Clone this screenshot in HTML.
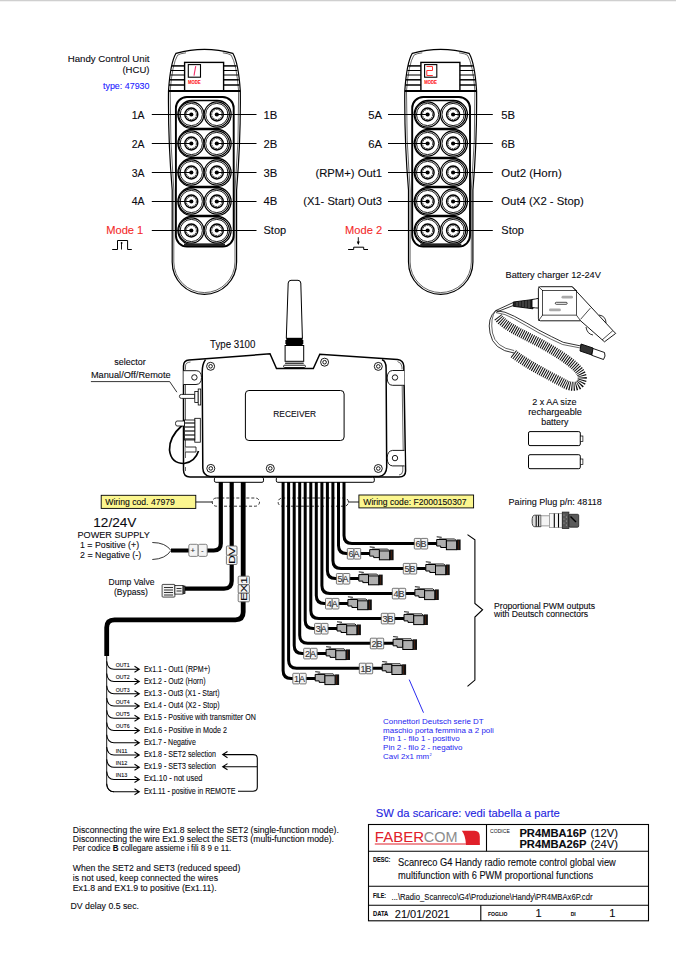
<!DOCTYPE html>
<html><head><meta charset="utf-8">
<style>
html,body{margin:0;padding:0;background:#fff;}
body{width:676px;height:955px;overflow:hidden;position:relative;}
svg{position:absolute;left:0;top:0;}
text{font-family:"Liberation Sans",sans-serif;fill:#0a0a10;stroke:#0a0a10;stroke-width:0.1px;}
</style></head><body>
<svg width="676" height="955" viewBox="0 0 676 955">
<defs>
<g id="btn">
  <circle r="12.6" fill="#fff" stroke="#000" stroke-width="1.2"/>
  <circle r="11.1" fill="none" stroke="#000" stroke-width="0.9"/>
  <circle r="6.5" fill="none" stroke="#000" stroke-width="1.4"/>
  <circle r="5.1" fill="none" stroke="#000" stroke-width="0.9" stroke-dasharray="1.8 0.7"/>
  <circle r="2.1" fill="#000"/>
</g>
<g id="row">
  <rect x="-13.4" y="-14" width="53.2" height="28" rx="14" fill="#fff" stroke="#000" stroke-width="1.3"/>
  <use href="#btn" x="0" y="0"/>
  <use href="#btn" x="25.5" y="0"/>
</g>
<g id="hcu">
  <!-- body outline -->
  <path d="M176,53.3 Q204.4,45.3 232.8,53.3 Q238.5,63 240.3,91 Q240.8,140 236.6,190 L236.6,262 A32.2,32.3 0 0 1 172.2,262 L172.2,190 Q168,140 168.5,91 Q170.3,63 176,53.3 Z" fill="#fff" stroke="#000" stroke-width="1.2"/>
  <path d="M186,52.8 Q180,53.5 177.6,55.2 Q172.2,64 170.2,91 M222.8,52.8 Q228.8,53.5 231.2,55.2 Q236.6,64 238.6,91 M238.6,91 Q239.2,140 235,190 L235,262 A30.6,30.6 0 0 1 173.8,262 L173.8,190 Q169.8,140 170.2,91" fill="none" stroke="#000" stroke-width="0.6"/>
  <!-- head -->
  <rect x="184.6" y="62.4" width="39" height="28.5" fill="#fff" stroke="#000" stroke-width="1.4"/>
  <g stroke="#000">
    <line x1="171.8" y1="65.9" x2="184.6" y2="65.9" stroke-width="1.5"/>
    <line x1="171" y1="70.5" x2="184.6" y2="70.5" stroke-width="1"/>
    <line x1="170.3" y1="75" x2="184.6" y2="75" stroke-width="1"/>
    <line x1="169.6" y1="79.8" x2="184.6" y2="79.8" stroke-width="1.5"/>
    <line x1="169" y1="85" x2="184.6" y2="85" stroke-width="1.5"/>
    <line x1="223.6" y1="65.9" x2="236.6" y2="65.9" stroke-width="1.5"/>
    <line x1="223.6" y1="70.5" x2="237.4" y2="70.5" stroke-width="1"/>
    <line x1="223.6" y1="75" x2="238.1" y2="75" stroke-width="1"/>
    <line x1="223.6" y1="79.8" x2="238.8" y2="79.8" stroke-width="1.5"/>
    <line x1="223.6" y1="85" x2="239.4" y2="85" stroke-width="1.5"/>
    <line x1="168.5" y1="91" x2="240.3" y2="91" stroke-width="1.8"/>
  </g>
  <rect x="188.3" y="64.6" width="12.2" height="12.6" fill="#fff" stroke="#000" stroke-width="1.1"/>
  <text x="187.9" y="83.8" font-size="5" font-weight="bold" style="fill:#f22;stroke:#f22" textLength="12.7" lengthAdjust="spacingAndGlyphs">MODE</text>
  <!-- keypad -->
  <rect x="175.9" y="97" width="57.8" height="149.6" rx="11" fill="#fff" stroke="#000" stroke-width="1.9"/>
  <use href="#row" x="191.3" y="114.5"/>
  <use href="#row" x="191.3" y="143.5"/>
  <use href="#row" x="191.3" y="172.5"/>
  <use href="#row" x="191.3" y="201.5"/>
  <use href="#row" x="191.3" y="230.5"/>
  <path d="M184,244.8 H225" stroke="#222" stroke-width="2.6"/>
</g>
</defs>

<!-- top border line -->
<rect x="0" y="0" width="676" height="1" fill="#cfcfcf"/><rect x="0" y="1" width="676" height="1" fill="#f2f2f2"/>

<!-- HCU left -->
<use href="#hcu"/>
<line x1="195.7" y1="66.1" x2="194" y2="75.7" stroke="#f2306a" stroke-width="1.1"/>
<!-- HCU right -->
<use href="#hcu" x="236.3"/>
<path d="M426.5,66.5 H432.5 V70.5 H426.8 V75.5 H432.8" fill="none" stroke="#f33" stroke-width="1"/>

<!-- left HCU labels -->
<g font-size="11">
<text x="67.7" y="62" font-size="9.8" textLength="81.8" lengthAdjust="spacingAndGlyphs">Handy Control Unit</text>
<text x="122.4" y="73.1" font-size="9.8" textLength="27.1" lengthAdjust="spacingAndGlyphs">(HCU)</text>
<text x="103" y="89.4" font-size="9" style="fill:#1c1cff;stroke:#1c1cff" textLength="46.5" lengthAdjust="spacingAndGlyphs">type: 47930</text>
</g>
<g stroke="#000" stroke-width="1">
  <line x1="151.8" y1="114.5" x2="191.3" y2="114.5"/>
  <line x1="151.8" y1="143.5" x2="191.3" y2="143.5"/>
  <line x1="151.8" y1="172.5" x2="191.3" y2="172.5"/>
  <line x1="151.8" y1="201.5" x2="191.3" y2="201.5"/>
  <line x1="151.8" y1="230.5" x2="191.3" y2="230.5"/>
  <line x1="216.8" y1="114.5" x2="256.5" y2="114.5"/>
  <line x1="216.8" y1="143.5" x2="256.5" y2="143.5"/>
  <line x1="216.8" y1="172.5" x2="256.5" y2="172.5"/>
  <line x1="216.8" y1="201.5" x2="256.5" y2="201.5"/>
  <line x1="216.8" y1="230.5" x2="256.5" y2="230.5"/>
  <line x1="388" y1="114.5" x2="427.6" y2="114.5"/>
  <line x1="388" y1="143.5" x2="427.6" y2="143.5"/>
  <line x1="388" y1="172.5" x2="427.6" y2="172.5"/>
  <line x1="388" y1="201.5" x2="427.6" y2="201.5"/>
  <line x1="388" y1="230.5" x2="427.6" y2="230.5"/>
  <line x1="453.1" y1="114.5" x2="492.8" y2="114.5"/>
  <line x1="453.1" y1="143.5" x2="492.8" y2="143.5"/>
  <line x1="453.1" y1="172.5" x2="492.8" y2="172.5"/>
  <line x1="453.1" y1="201.5" x2="492.8" y2="201.5"/>
  <line x1="453.1" y1="230.5" x2="492.8" y2="230.5"/>
</g>
<g font-size="11.2">
<text x="131.8" y="118.7" textLength="12.8" lengthAdjust="spacingAndGlyphs">1A</text>
<text x="131.8" y="147.8" textLength="12.8" lengthAdjust="spacingAndGlyphs">2A</text>
<text x="131.8" y="176.9" textLength="12.8" lengthAdjust="spacingAndGlyphs">3A</text>
<text x="131.8" y="205" textLength="12.8" lengthAdjust="spacingAndGlyphs">4A</text>
<text x="106.2" y="234" style="fill:#f42a2a;stroke:#f42a2a" textLength="37.1" lengthAdjust="spacingAndGlyphs">Mode 1</text>
<text x="263.5" y="118.7" textLength="13.8" lengthAdjust="spacingAndGlyphs">1B</text>
<text x="263.5" y="147.8" textLength="13.8" lengthAdjust="spacingAndGlyphs">2B</text>
<text x="263.5" y="176.9" textLength="13.8" lengthAdjust="spacingAndGlyphs">3B</text>
<text x="263.5" y="205" textLength="13.8" lengthAdjust="spacingAndGlyphs">4B</text>
<text x="263.5" y="234" textLength="22.7" lengthAdjust="spacingAndGlyphs">Stop</text>

<text x="368.3" y="118.7" textLength="13.8" lengthAdjust="spacingAndGlyphs">5A</text>
<text x="368.3" y="147.8" textLength="13.8" lengthAdjust="spacingAndGlyphs">6A</text>
<text x="315.4" y="176.9" textLength="66.7" lengthAdjust="spacingAndGlyphs">(RPM+) Out1</text>
<text x="303.2" y="205" textLength="78.9" lengthAdjust="spacingAndGlyphs">(X1- Start) Out3</text>
<text x="345" y="234" style="fill:#f42a2a;stroke:#f42a2a" textLength="37.1" lengthAdjust="spacingAndGlyphs">Mode 2</text>
<text x="501.3" y="118.7" textLength="13.8" lengthAdjust="spacingAndGlyphs">5B</text>
<text x="501.3" y="147.8" textLength="13.8" lengthAdjust="spacingAndGlyphs">6B</text>
<text x="501.3" y="176.9" textLength="60.4" lengthAdjust="spacingAndGlyphs">Out2 (Horn)</text>
<text x="501.3" y="205" textLength="82.6" lengthAdjust="spacingAndGlyphs">Out4 (X2 - Stop)</text>
<text x="501.3" y="234" textLength="22.7" lengthAdjust="spacingAndGlyphs">Stop</text>
</g>
<!-- pulse symbols -->
<path d="M112.2,249.5 H117.5 V240.5 H127.6 V249.5 H131.8" fill="none" stroke="#000" stroke-width="1"/>
<path d="M121.5,249.5 V243" fill="none" stroke="#000" stroke-width="0.9"/><circle cx="121.6" cy="243" r="0.9" fill="#000"/>
<path d="M348.1,249.5 H353.7 V247.2 H363.7 V249.5 H368" fill="none" stroke="#000" stroke-width="1"/>
<path d="M358.3,237.2 V244" fill="none" stroke="#000" stroke-width="0.9"/><path d="M356.8,241.6 L358.3,245 L359.8,241.6 Z" fill="#000"/>

<!-- ===== Battery charger ===== -->
<text x="505.5" y="277.9" font-size="9.2" textLength="95.4" lengthAdjust="spacingAndGlyphs">Battery charger 12-24V</text>
<g fill="none" stroke="#000" stroke-width="0.9">
  <!-- cables -->
  <path d="M495.7,310.6 Q487,318 490,333 Q493,350 514,353" stroke-width="0.8"/>
  <path d="M495.7,310.6 Q490,318 492.5,333 Q495.5,347.5 514,350.5" stroke-width="0.6"/>
  <path d="M495.7,310.6 Q505,311 514.4,316.3 Q527,323 538.8,330.1 Q552,337 563.2,342.3 L581,346" stroke-width="0.8"/>
  <path d="M496,312.6 Q505,313.5 513.5,318.5 Q526,325.5 537.8,332.3 Q551,339.5 562.5,344.5 L580.5,348" stroke-width="0.6"/>
  <path d="M513.3,302.5 L495.7,310.6 M513.3,305.5 L496.5,312" stroke-width="0.8"/>
</g>
<!-- coils -->
<path d="M498,317 C506,328 530,337 547,347 C566,358 585,371 582,380 C580,388 571,387 566,384.5 C550,376 526,364 512.5,353" fill="none" stroke="#111" stroke-width="9" stroke-dasharray="1.05 1.1"/>
<g fill="#fff" stroke="#000" stroke-width="0.9">
  <!-- strain relief -->
  <path d="M513.3,302 L533,299.5 L533,308.8 L513.3,306.3 Z" fill="#222"/><path d="M517,302 V306 M520,301.5 V306.5 M523,301 V307 M526,300.6 V307.5 M529,300.2 V308" stroke="#888" stroke-width="0.6"/>
  <path d="M532,299.5 Q536,299 538.4,298.3 V308.1 Q536,308 532,307.5 Z"/>
  <!-- dc plug -->
  <path d="M581,344 L593,348 L591.8,355 L580,351 Z" fill="#333"/>
  <path d="M593,348.5 L604.5,352.5 Q606,356 603.5,359.5 L591.8,355.3 Z"/>
  <!-- charger body -->
  <path d="M540.4,286.7 H572.2 L612.9,330.6 L615.7,333.4 L604.5,341.8 L580.6,320.8 H540.4 Q538.4,320.8 538.4,318.8 V288.7 Q538.4,286.7 540.4,286.7 Z"/>
  <rect x="542.6" y="290.5" width="33.8" height="24.6" fill="none" stroke-width="0.7"/>
  <path d="M572.2,286.7 L576.4,290.5 M576.4,315.1 L580.6,320.8 M538.4,286.7 L542.6,290.5 M538.4,320.8 L542.6,315.1 M590.4,308.1 L580.6,319.3 M612.9,330.6 L602,340" fill="none" stroke-width="0.7"/>
  <path d="M599,315 Q606,316 606,323 M586,327 Q587,334 593,335" fill="none" stroke-width="0.8"/>
  <rect x="561.5" y="295.8" width="11.5" height="2.8" rx="1.4" fill="#aaa" stroke="none"/>
  <rect x="555.3" y="302.3" width="11.9" height="2" rx="1" fill="#fff" stroke-width="0.7"/>
  <rect x="549" y="308.5" width="11.9" height="2.8" rx="1.4" fill="#aaa" stroke="none"/>
</g>

<!-- batteries -->
<text x="532.2" y="404.8" font-size="8.2" textLength="44.3" lengthAdjust="spacingAndGlyphs">2 x AA size</text>
<text x="528.3" y="414.9" font-size="8.2" textLength="53.6" lengthAdjust="spacingAndGlyphs">rechargeable</text>
<text x="541.3" y="424.8" font-size="8.2" textLength="27" lengthAdjust="spacingAndGlyphs">battery</text>
<g fill="#fff" stroke="#000" stroke-width="1">
  <rect x="528.5" y="431.6" width="51.8" height="14" rx="1.5"/>
  <rect x="580.3" y="436" width="2.6" height="5.5" stroke-width="0.7"/>
  <rect x="528.5" y="454.7" width="51.8" height="14" rx="1.5"/>
  <rect x="580.3" y="459" width="2.6" height="5.5" stroke-width="0.7"/>
</g>

<!-- ===== Receiver ===== -->
<text x="210.1" y="348.3" font-size="10" textLength="45.3" lengthAdjust="spacingAndGlyphs">Type 3100</text>
<text x="114.3" y="364.8" font-size="8.5" textLength="31.4" lengthAdjust="spacingAndGlyphs">selector</text>
<text x="90.9" y="378.1" font-size="8.5" textLength="79.8" lengthAdjust="spacingAndGlyphs">Manual/Off/Remote</text>
<path d="M90.9,381.6 H169.7 L176.9,392.2" fill="none" stroke="#000" stroke-width="0.8"/>
<g fill="#fff" stroke="#000">
  <!-- outer contour -->
  <path d="M189,360.1 L270,353.8 L276.5,368.5 H313.3 L319.8,354.3 L397.5,359.4 Q403.3,360 403.8,366 L405.6,471 Q405.6,477 399,477 H190 Q183.5,477 183.5,470 V366 Q183.5,360.5 189,360.1 Z" stroke-width="1.5"/>
  <path d="M185.5,369.8 V366 Q185.5,362.3 190.5,362" fill="none" stroke-width="0.6"/>
  <path d="M402,369.4 V367 Q401.7,362.5 397.5,361.5" fill="none" stroke-width="0.6"/>
  <path d="M402.2,386 L403.2,450.4 M402.8,466 V471 Q402.5,474.8 399,475" fill="none" stroke-width="0.6"/>
  <path d="M185.5,384.5 V458 M185.5,467 V471" fill="none" stroke-width="0.6"/>
  <!-- main face -->
  <path d="M205.5,359.6 Q202.2,364 202.2,372 L202.8,468 Q203,475.5 210,476.5 H379 Q386.5,475.5 386.7,467 L386.1,368 Q386,361 382,359.8" fill="none" stroke-width="1.5"/>
  <!-- label -->
  <rect x="245.4" y="390.5" width="98.7" height="50" rx="3.5" stroke-width="1"/>
  <!-- screws -->
  <g stroke-width="0.9">
    <circle cx="210.6" cy="366.3" r="4"/><circle cx="210.6" cy="366.3" r="1.8" fill="none"/>
    <circle cx="210.8" cy="468.4" r="4"/><circle cx="210.8" cy="468.4" r="1.8" fill="none"/>
    <circle cx="270.3" cy="468.4" r="4"/><circle cx="270.3" cy="468.4" r="1.8" fill="none"/>
    <circle cx="324.6" cy="362.2" r="4"/><circle cx="324.6" cy="362.2" r="1.8" fill="none"/>
    <circle cx="378.3" cy="366.4" r="4"/><circle cx="378.3" cy="366.4" r="1.8" fill="none"/>
    <circle cx="378.3" cy="468.5" r="4"/><circle cx="378.3" cy="468.5" r="1.8" fill="none"/>
  </g>
  <!-- flange tabs -->
  <path d="M404.2,370.5 H392.5 Q387.2,371 387.2,378 Q387.2,385 392.5,385.3 H404.4" stroke-width="0.9"/>
  <circle cx="395" cy="377.5" r="2.7" stroke-width="0.9"/>
  <path d="M404.4,450.4 H392.5 Q387.2,451 387.2,458 Q387.2,465.4 392.5,465.9 H404.6" stroke-width="0.9"/>
  <circle cx="395" cy="458.1" r="2.7" stroke-width="0.9"/>
  <path d="M183.5,370.7 H196.6 Q201.5,371.2 201.5,377.5 Q201.5,384.3 196,384.5 H183.5" stroke-width="0.9"/>
  <circle cx="194.4" cy="377.4" r="2.7" stroke-width="0.9"/>
  <!-- selector -->
  <path d="M181.5,394.4 H194.8 V398.4 H181.5 Q179.4,398.4 179.4,396.4 Q179.4,394.4 181.5,394.4 Z" stroke-width="0.8"/>
  <rect x="194.8" y="391.5" width="3.4" height="10.9" stroke-width="0.8"/>
  <rect x="198.2" y="389" width="2.5" height="16" stroke-width="0.8"/>
  <!-- connector -->
  <rect x="194.8" y="418.3" width="5.5" height="23.9" stroke-width="0.8"/>
  <rect x="184.5" y="420" width="10.3" height="20" stroke-width="0.8"/>
  <g stroke-width="1.1"><line x1="185" y1="423" x2="194.8" y2="423"/><line x1="185" y1="427" x2="194.8" y2="427"/><line x1="185" y1="431" x2="194.8" y2="431"/><line x1="185" y1="435" x2="194.8" y2="435"/><line x1="185" y1="439" x2="194.8" y2="439"/></g>
  <path d="M182,425.5 Q169,437 169.5,450 Q171,463.5 184,463.5 Q195,462 198.5,451" fill="none" stroke-width="1.7"/><path d="M177,421 H184.5 V426 H177 Q175.5,426 175.5,423.5 Q175.5,421 177,421 Z" stroke-width="0.8"/><path d="M185.5,447 H196 V452 H185.5" stroke-width="0.8"/>
  <!-- bottom connector plates -->
  <rect x="214.4" y="477.3" width="49.1" height="5" rx="1.5" stroke-width="1"/>
  <rect x="276.3" y="477.3" width="98" height="5" rx="1.5" stroke-width="1"/>
</g>
<!-- ===== Antenna ===== -->
<g fill="#fff" stroke="#000" stroke-width="1">
  <path d="M286.3,338.3 L288.2,283 Q288.5,280.3 291,280.3 H298 Q300.5,280.3 300.8,283 L302.4,338.3 Z"/>
  <rect x="285.1" y="345.5" width="18.6" height="15.8"/>
  <line x1="285.1" y1="363.2" x2="303.7" y2="363.2" stroke-width="1.1"/>
  <rect x="283.6" y="365.2" width="21.8" height="2.3" rx="1" stroke-width="0.9"/>
  <path d="M286.3,338 H302.6 V340 H303.3 V344 H302.6 V345.6 H286.1 V344 H285.4 V340 H286.3 Z" fill="#000" stroke="none"/>
</g>
<text x="273.3" y="416.9" font-size="9" textLength="42.8" lengthAdjust="spacingAndGlyphs">RECEIVER</text>
<!-- WIRING -->
<g>
<rect x="101.2" y="495.3" width="94.6" height="13.1" fill="#fbf68f" stroke="#000" stroke-width="0.9"/>
<text x="105.3" y="505.4" font-size="8.5" textLength="69.6" lengthAdjust="spacingAndGlyphs">Wiring cod. 47979</text>
<line x1="195.8" y1="502" x2="212.5" y2="502" stroke="#000" stroke-width="0.9"/>
<rect x="358.9" y="495" width="114.7" height="12.9" fill="#fbf68f" stroke="#000" stroke-width="0.9"/>
<text x="363.3" y="504.5" font-size="8.5" textLength="103.2" lengthAdjust="spacingAndGlyphs">Wiring code: F2000150307</text>
<line x1="348" y1="502" x2="358.9" y2="502" stroke="#000" stroke-width="0.9"/>
</g>
<path d="M220.8,482 V543.5 Q220.8,550.5 213.8,550.5 H171" fill="none" stroke="#000" stroke-linecap="butt" stroke-linejoin="round" stroke-width="4.2"/>
<path d="M231.7,482 V581 Q231.7,588.6 224,588.6 H184.2" fill="none" stroke="#000" stroke-linecap="butt" stroke-linejoin="round" stroke-width="4.2"/>
<path d="M243.2,482 V612 Q243.2,619.8 235.4,619.8 H114.5 Q106.7,619.8 106.7,627.6 V656" fill="none" stroke="#000" stroke-linecap="butt" stroke-linejoin="round" stroke-width="4.8"/>
<path d="M152.3,542.5 Q165.5,542.5 171,550.5 M152.3,559.5 Q165.5,559 171,550.5" fill="none" stroke="#000" stroke-width="0.8"/>
<g stroke="#666" stroke-width="0.8" fill="#f4f4f4"><rect x="188.8" y="544.3" width="9.4" height="12.1" rx="1.5"/><rect x="198.2" y="544.3" width="9" height="12.1" rx="1.5"/></g>
<text x="190.6" y="553.3" font-size="8" style="fill:#333;stroke:#333">+</text><text x="201" y="553" font-size="8" style="fill:#333;stroke:#333">-</text>
<g fill="#f4f4f4" stroke="#555" stroke-width="0.8"><rect x="226.4" y="546" width="10.6" height="9.3" rx="1"/><rect x="226.4" y="555.3" width="10.6" height="9.2" rx="1"/></g>
<text transform="translate(235.2,564) rotate(-90)" font-size="9" textLength="17" lengthAdjust="spacingAndGlyphs">DV</text>
<g fill="#f4f4f4" stroke="#555" stroke-width="0.8"><rect x="238.2" y="576.2" width="11.2" height="8.5" rx="1"/><rect x="238.2" y="584.7" width="11.2" height="8.5" rx="1"/><rect x="238.2" y="593.2" width="11.2" height="8.6" rx="1"/></g>
<text transform="translate(247.3,601) rotate(-90)" font-size="9" textLength="24" lengthAdjust="spacingAndGlyphs">EX1</text>
<g stroke="#000" stroke-width="0.7" fill="#f2f2f2"><rect x="162.1" y="584.4" width="12.8" height="12.7" rx="0.8"/><rect x="174.9" y="585.5" width="8.2" height="8.6"/><rect x="183" y="586" width="2" height="7.6" fill="#555"/></g>
<g stroke="#000" stroke-width="0.8"><line x1="164" y1="587.5" x2="173" y2="587.5"/><line x1="164" y1="590" x2="173" y2="590"/><line x1="164" y1="592.5" x2="173" y2="592.5"/><line x1="164" y1="595" x2="173" y2="595"/><line x1="176.5" y1="588.5" x2="181.5" y2="588.5"/><line x1="176.5" y1="591" x2="181.5" y2="591"/></g>
<rect x="212.2" y="498" width="47.3" height="8.2" rx="4.1" fill="none" stroke="#000" stroke-width="0.8" stroke-dasharray="3 2"/>
<rect x="278.1" y="498" width="70.3" height="8.2" rx="4.1" fill="none" stroke="#000" stroke-width="0.8" stroke-dasharray="3 2"/>
<path d="M283.1,482 V670.4 Q283.1,678.4 291.1,678.4 H316.2" fill="none" stroke="#000" stroke-linecap="butt" stroke-linejoin="round" stroke-width="3"/>
<path d="M288.6,482 V660.3 Q288.6,668.3 296.6,668.3 H383.2" fill="none" stroke="#000" stroke-linecap="butt" stroke-linejoin="round" stroke-width="3"/>
<path d="M294.2,482 V645.4 Q294.2,653.4 302.2,653.4 H327.1" fill="none" stroke="#000" stroke-linecap="butt" stroke-linejoin="round" stroke-width="3"/>
<path d="M299.7,482 V635.3 Q299.7,643.3 307.7,643.3 H394.1" fill="none" stroke="#000" stroke-linecap="butt" stroke-linejoin="round" stroke-width="3"/>
<path d="M305.2,482 V620.5 Q305.2,628.5 313.2,628.5 H338.0" fill="none" stroke="#000" stroke-linecap="butt" stroke-linejoin="round" stroke-width="3"/>
<path d="M310.8,482 V610.4 Q310.8,618.4 318.8,618.4 H405.0" fill="none" stroke="#000" stroke-linecap="butt" stroke-linejoin="round" stroke-width="3"/>
<path d="M316.3,482 V595.5 Q316.3,603.5 324.3,603.5 H348.9" fill="none" stroke="#000" stroke-linecap="butt" stroke-linejoin="round" stroke-width="3"/>
<path d="M321.9,482 V585.4 Q321.9,593.4 329.9,593.4 H415.9" fill="none" stroke="#000" stroke-linecap="butt" stroke-linejoin="round" stroke-width="3"/>
<path d="M327.4,482 V570.6 Q327.4,578.6 335.4,578.6 H359.8" fill="none" stroke="#000" stroke-linecap="butt" stroke-linejoin="round" stroke-width="3"/>
<path d="M332.9,482 V560.5 Q332.9,568.5 340.9,568.5 H426.8" fill="none" stroke="#000" stroke-linecap="butt" stroke-linejoin="round" stroke-width="3"/>
<path d="M338.5,482 V545.6 Q338.5,553.6 346.5,553.6 H370.7" fill="none" stroke="#000" stroke-linecap="butt" stroke-linejoin="round" stroke-width="3"/>
<path d="M344.0,482 V535.5 Q344.0,543.5 352.0,543.5 H437.7" fill="none" stroke="#000" stroke-linecap="butt" stroke-linejoin="round" stroke-width="3"/>
<g fill="#f4f4f4" stroke="#555" stroke-width="0.8"><rect x="292.8" y="673.3" width="6.7" height="10.6" rx="0.8"/><rect x="299.5" y="673.3" width="6.7" height="10.6" rx="0.8"/></g>
<text x="294.0" y="682.0" font-size="9" style="fill:#333;stroke:#333" textLength="11" lengthAdjust="spacingAndGlyphs">1A</text>
<path d="M315.2,671.7 L320.2,672.2 M317.7,673.9 H333.2 L334.7,675.4" fill="none" stroke="#000" stroke-width="0.9"/>
<path d="M315.2,674.4 H324.9 V682.4 H319.2 V680.9 H315.2 Z" fill="#b0b0b0" stroke="#000" stroke-width="1"/>
<rect x="324.9" y="675.7" width="10.2" height="8.9" fill="#b0b0b0" stroke="#000" stroke-width="1"/>
<rect x="335.1" y="674.4" width="4" height="10.6" fill="#111"/>
<rect x="336.5" y="675.4" width="0.5" height="9" fill="#6a2a10"/>
<g fill="#f4f4f4" stroke="#555" stroke-width="0.8"><rect x="359.3" y="663.2" width="6.7" height="10.6" rx="0.8"/><rect x="366.0" y="663.2" width="6.7" height="10.6" rx="0.8"/></g>
<text x="360.5" y="671.9" font-size="9" style="fill:#333;stroke:#333" textLength="11" lengthAdjust="spacingAndGlyphs">1B</text>
<path d="M382.2,661.6 L387.2,662.1 M384.7,663.8 H400.2 L401.7,665.3" fill="none" stroke="#000" stroke-width="0.9"/>
<path d="M382.2,664.3 H391.9 V672.3 H386.2 V670.8 H382.2 Z" fill="#b0b0b0" stroke="#000" stroke-width="1"/>
<rect x="391.9" y="665.6" width="10.2" height="8.9" fill="#b0b0b0" stroke="#000" stroke-width="1"/>
<rect x="402.1" y="664.3" width="4" height="10.6" fill="#111"/>
<rect x="403.5" y="665.3" width="0.5" height="9" fill="#6a2a10"/>
<g fill="#f4f4f4" stroke="#555" stroke-width="0.8"><rect x="303.7" y="648.3" width="6.7" height="10.6" rx="0.8"/><rect x="310.4" y="648.3" width="6.7" height="10.6" rx="0.8"/></g>
<text x="304.9" y="657.0" font-size="9" style="fill:#333;stroke:#333" textLength="11" lengthAdjust="spacingAndGlyphs">2A</text>
<path d="M326.1,646.7 L331.1,647.2 M328.6,648.9 H344.1 L345.6,650.4" fill="none" stroke="#000" stroke-width="0.9"/>
<path d="M326.1,649.4 H335.8 V657.4 H330.1 V655.9 H326.1 Z" fill="#b0b0b0" stroke="#000" stroke-width="1"/>
<rect x="335.8" y="650.7" width="10.2" height="8.9" fill="#b0b0b0" stroke="#000" stroke-width="1"/>
<rect x="346.0" y="649.4" width="4" height="10.6" fill="#111"/>
<rect x="347.4" y="650.4" width="0.5" height="9" fill="#6a2a10"/>
<g fill="#f4f4f4" stroke="#555" stroke-width="0.8"><rect x="370.3" y="638.2" width="6.7" height="10.6" rx="0.8"/><rect x="377.0" y="638.2" width="6.7" height="10.6" rx="0.8"/></g>
<text x="371.5" y="646.9" font-size="9" style="fill:#333;stroke:#333" textLength="11" lengthAdjust="spacingAndGlyphs">2B</text>
<path d="M393.1,636.6 L398.1,637.1 M395.6,638.8 H411.1 L412.6,640.3" fill="none" stroke="#000" stroke-width="0.9"/>
<path d="M393.1,639.3 H402.8 V647.3 H397.1 V645.8 H393.1 Z" fill="#b0b0b0" stroke="#000" stroke-width="1"/>
<rect x="402.8" y="640.6" width="10.2" height="8.9" fill="#b0b0b0" stroke="#000" stroke-width="1"/>
<rect x="413.0" y="639.3" width="4" height="10.6" fill="#111"/>
<rect x="414.4" y="640.3" width="0.5" height="9" fill="#6a2a10"/>
<g fill="#f4f4f4" stroke="#555" stroke-width="0.8"><rect x="314.6" y="623.4" width="6.7" height="10.6" rx="0.8"/><rect x="321.3" y="623.4" width="6.7" height="10.6" rx="0.8"/></g>
<text x="315.8" y="632.1" font-size="9" style="fill:#333;stroke:#333" textLength="11" lengthAdjust="spacingAndGlyphs">3A</text>
<path d="M337.0,621.8 L342.0,622.3 M339.5,624.0 H355.0 L356.5,625.5" fill="none" stroke="#000" stroke-width="0.9"/>
<path d="M337.0,624.5 H346.7 V632.5 H341.0 V631.0 H337.0 Z" fill="#b0b0b0" stroke="#000" stroke-width="1"/>
<rect x="346.7" y="625.8" width="10.2" height="8.9" fill="#b0b0b0" stroke="#000" stroke-width="1"/>
<rect x="356.9" y="624.5" width="4" height="10.6" fill="#111"/>
<rect x="358.3" y="625.5" width="0.5" height="9" fill="#6a2a10"/>
<g fill="#f4f4f4" stroke="#555" stroke-width="0.8"><rect x="381.3" y="613.3" width="6.7" height="10.6" rx="0.8"/><rect x="388.0" y="613.3" width="6.7" height="10.6" rx="0.8"/></g>
<text x="382.5" y="622.0" font-size="9" style="fill:#333;stroke:#333" textLength="11" lengthAdjust="spacingAndGlyphs">3B</text>
<path d="M404.0,611.7 L409.0,612.2 M406.5,613.9 H422.0 L423.5,615.4" fill="none" stroke="#000" stroke-width="0.9"/>
<path d="M404.0,614.4 H413.7 V622.4 H408.0 V620.9 H404.0 Z" fill="#b0b0b0" stroke="#000" stroke-width="1"/>
<rect x="413.7" y="615.7" width="10.2" height="8.9" fill="#b0b0b0" stroke="#000" stroke-width="1"/>
<rect x="423.9" y="614.4" width="4" height="10.6" fill="#111"/>
<rect x="425.3" y="615.4" width="0.5" height="9" fill="#6a2a10"/>
<g fill="#f4f4f4" stroke="#555" stroke-width="0.8"><rect x="325.5" y="598.4" width="6.7" height="10.6" rx="0.8"/><rect x="332.2" y="598.4" width="6.7" height="10.6" rx="0.8"/></g>
<text x="326.7" y="607.1" font-size="9" style="fill:#333;stroke:#333" textLength="11" lengthAdjust="spacingAndGlyphs">4A</text>
<path d="M347.9,596.8 L352.9,597.3 M350.4,599.0 H365.9 L367.4,600.5" fill="none" stroke="#000" stroke-width="0.9"/>
<path d="M347.9,599.5 H357.6 V607.5 H351.9 V606.0 H347.9 Z" fill="#b0b0b0" stroke="#000" stroke-width="1"/>
<rect x="357.6" y="600.8" width="10.2" height="8.9" fill="#b0b0b0" stroke="#000" stroke-width="1"/>
<rect x="367.8" y="599.5" width="4" height="10.6" fill="#111"/>
<rect x="369.2" y="600.5" width="0.5" height="9" fill="#6a2a10"/>
<g fill="#f4f4f4" stroke="#555" stroke-width="0.8"><rect x="392.3" y="588.3" width="6.7" height="10.6" rx="0.8"/><rect x="399.0" y="588.3" width="6.7" height="10.6" rx="0.8"/></g>
<text x="393.5" y="597.0" font-size="9" style="fill:#333;stroke:#333" textLength="11" lengthAdjust="spacingAndGlyphs">4B</text>
<path d="M414.9,586.7 L419.9,587.2 M417.4,588.9 H432.9 L434.4,590.4" fill="none" stroke="#000" stroke-width="0.9"/>
<path d="M414.9,589.4 H424.6 V597.4 H418.9 V595.9 H414.9 Z" fill="#b0b0b0" stroke="#000" stroke-width="1"/>
<rect x="424.6" y="590.7" width="10.2" height="8.9" fill="#b0b0b0" stroke="#000" stroke-width="1"/>
<rect x="434.8" y="589.4" width="4" height="10.6" fill="#111"/>
<rect x="436.2" y="590.4" width="0.5" height="9" fill="#6a2a10"/>
<g fill="#f4f4f4" stroke="#555" stroke-width="0.8"><rect x="336.4" y="573.5" width="6.7" height="10.6" rx="0.8"/><rect x="343.1" y="573.5" width="6.7" height="10.6" rx="0.8"/></g>
<text x="337.6" y="582.2" font-size="9" style="fill:#333;stroke:#333" textLength="11" lengthAdjust="spacingAndGlyphs">5A</text>
<path d="M358.8,571.9 L363.8,572.4 M361.3,574.1 H376.8 L378.3,575.6" fill="none" stroke="#000" stroke-width="0.9"/>
<path d="M358.8,574.6 H368.5 V582.6 H362.8 V581.1 H358.8 Z" fill="#b0b0b0" stroke="#000" stroke-width="1"/>
<rect x="368.5" y="575.9" width="10.2" height="8.9" fill="#b0b0b0" stroke="#000" stroke-width="1"/>
<rect x="378.7" y="574.6" width="4" height="10.6" fill="#111"/>
<rect x="380.1" y="575.6" width="0.5" height="9" fill="#6a2a10"/>
<g fill="#f4f4f4" stroke="#555" stroke-width="0.8"><rect x="403.3" y="563.4" width="6.7" height="10.6" rx="0.8"/><rect x="410.0" y="563.4" width="6.7" height="10.6" rx="0.8"/></g>
<text x="404.5" y="572.1" font-size="9" style="fill:#333;stroke:#333" textLength="11" lengthAdjust="spacingAndGlyphs">5B</text>
<path d="M425.8,561.8 L430.8,562.3 M428.3,564.0 H443.8 L445.3,565.5" fill="none" stroke="#000" stroke-width="0.9"/>
<path d="M425.8,564.5 H435.5 V572.5 H429.8 V571.0 H425.8 Z" fill="#b0b0b0" stroke="#000" stroke-width="1"/>
<rect x="435.5" y="565.8" width="10.2" height="8.9" fill="#b0b0b0" stroke="#000" stroke-width="1"/>
<rect x="445.7" y="564.5" width="4" height="10.6" fill="#111"/>
<rect x="447.1" y="565.5" width="0.5" height="9" fill="#6a2a10"/>
<g fill="#f4f4f4" stroke="#555" stroke-width="0.8"><rect x="347.3" y="548.5" width="6.7" height="10.6" rx="0.8"/><rect x="354.0" y="548.5" width="6.7" height="10.6" rx="0.8"/></g>
<text x="348.5" y="557.2" font-size="9" style="fill:#333;stroke:#333" textLength="11" lengthAdjust="spacingAndGlyphs">6A</text>
<path d="M369.7,546.9 L374.7,547.4 M372.2,549.1 H387.7 L389.2,550.6" fill="none" stroke="#000" stroke-width="0.9"/>
<path d="M369.7,549.6 H379.4 V557.6 H373.7 V556.1 H369.7 Z" fill="#b0b0b0" stroke="#000" stroke-width="1"/>
<rect x="379.4" y="550.9" width="10.2" height="8.9" fill="#b0b0b0" stroke="#000" stroke-width="1"/>
<rect x="389.6" y="549.6" width="4" height="10.6" fill="#111"/>
<rect x="391.0" y="550.6" width="0.5" height="9" fill="#6a2a10"/>
<g fill="#f4f4f4" stroke="#555" stroke-width="0.8"><rect x="414.3" y="538.4" width="6.7" height="10.6" rx="0.8"/><rect x="421.0" y="538.4" width="6.7" height="10.6" rx="0.8"/></g>
<text x="415.5" y="547.1" font-size="9" style="fill:#333;stroke:#333" textLength="11" lengthAdjust="spacingAndGlyphs">6B</text>
<path d="M436.7,536.8 L441.7,537.3 M439.2,539.0 H454.7 L456.2,540.5" fill="none" stroke="#000" stroke-width="0.9"/>
<path d="M436.7,539.5 H446.4 V547.5 H440.7 V546.0 H436.7 Z" fill="#b0b0b0" stroke="#000" stroke-width="1"/>
<rect x="446.4" y="540.8" width="10.2" height="8.9" fill="#b0b0b0" stroke="#000" stroke-width="1"/>
<rect x="456.6" y="539.5" width="4" height="10.6" fill="#111"/>
<rect x="458.0" y="540.5" width="0.5" height="9" fill="#6a2a10"/>
<path d="M467.5,534.6 L474.9,539.9 V603.5 L482.6,609.7 L474.9,617 V680.1 L467.5,686.3" fill="none" stroke="#000" stroke-width="1.1"/>
<text x="494" y="608.7" font-size="8.4" textLength="101" lengthAdjust="spacingAndGlyphs">Proportional PWM outputs</text>
<text x="494" y="616.6" font-size="8.4" textLength="94.2" lengthAdjust="spacingAndGlyphs">with Deutsch connectors</text>
<text x="508.6" y="504.9" font-size="9" textLength="93.2" lengthAdjust="spacingAndGlyphs">Pairing Plug p/n: 48118</text>
<g stroke="#222" stroke-width="0.8"><path d="M534.5,515.2 H541 V526.7 H534.5 Q532.1,526.7 532.1,521 Q532.1,515.2 534.5,515.2 Z" fill="#ddd"/><rect x="541" y="515.8" width="8.4" height="10.1" fill="#f4f4f4" stroke="#888"/><rect x="549.4" y="513.4" width="12.9" height="14.2" fill="#f6f6f6" stroke="#999"/><rect x="562.3" y="512.1" width="6.6" height="16.4" fill="#555" stroke="#222"/><rect x="568.9" y="514.3" width="9.8" height="12.9" rx="1.2" fill="#5a5a5a" stroke="#222"/></g><g stroke="#000"><line x1="536.2" y1="515.5" x2="536.2" y2="526.5" stroke-width="1"/><line x1="538.6" y1="515.5" x2="538.6" y2="526.5" stroke-width="1"/><line x1="554.3" y1="513.5" x2="554.3" y2="527.5" stroke-width="1.1"/><line x1="558.5" y1="513.5" x2="558.5" y2="527.5" stroke-width="1.1"/><line x1="570.5" y1="516.5" x2="576" y2="522" stroke-width="1.4"/></g><g fill="#aaa"><circle cx="564" cy="515" r="0.6"/><circle cx="564" cy="519" r="0.6"/><circle cx="564" cy="523" r="0.6"/><circle cx="566.5" cy="517" r="0.6"/><circle cx="566.5" cy="521" r="0.6"/><circle cx="566.5" cy="525" r="0.6"/></g>
<line x1="409.2" y1="679.6" x2="423.5" y2="712.7" stroke="#2b2bf0" stroke-width="1"/>
<text x="383.1" y="723.8" font-size="7" style="fill:#2424f0;stroke:none" textLength="100.6" lengthAdjust="spacingAndGlyphs">Connettori Deutsch serie DT</text>
<text x="383.1" y="733.1" font-size="7" style="fill:#2424f0;stroke:none" textLength="110.7" lengthAdjust="spacingAndGlyphs">maschio porta femmina a 2 poli</text>
<text x="383.1" y="740.8" font-size="7" style="fill:#2424f0;stroke:none" textLength="76.5" lengthAdjust="spacingAndGlyphs">Pin 1 - filo 1 - positivo</text>
<text x="383.1" y="749.8" font-size="7" style="fill:#2424f0;stroke:none" textLength="79.4" lengthAdjust="spacingAndGlyphs">Pin 2 - filo 2 - negativo</text>
<text x="383.1" y="759.4" font-size="7" style="fill:#2424f0;stroke:none" textLength="46" lengthAdjust="spacingAndGlyphs">Cavi 2x1 mm</text>
<text x="429.6" y="755.5" font-size="4" style="fill:#2424f0;stroke:none">2</text>
<text x="93.3" y="526.5" font-size="12.5" textLength="43.1" lengthAdjust="spacingAndGlyphs">12/24V</text>
<text x="77.5" y="538" font-size="9.2" textLength="72.3" lengthAdjust="spacingAndGlyphs">POWER SUPPLY</text>
<text x="80" y="547.8" font-size="9.2" textLength="59.1" lengthAdjust="spacingAndGlyphs">1 = Positive (+)</text>
<text x="80" y="557.9" font-size="9.2" textLength="61.2" lengthAdjust="spacingAndGlyphs">2 = Negative (-)</text>
<text x="108.5" y="584.5" font-size="9" textLength="46" lengthAdjust="spacingAndGlyphs">Dump Valve</text>
<text x="114" y="594.7" font-size="9" textLength="33.9" lengthAdjust="spacingAndGlyphs">(Bypass)</text>
<!-- /WIRING -->
<!-- BOTTOM -->
<text x="143.9" y="671.6" font-size="8.8" textLength="66.3" lengthAdjust="spacingAndGlyphs">Ex1.1 - Out1 (RPM+)</text>
<path d="M106.7,661.3 Q107.5,669.3 114,669.3 H138.5 M134.5,666.3 L139.3,669.3 L134.5,672.3" fill="none" stroke="#000" stroke-width="1.05"/>
<text x="115.8" y="667.1" font-size="5" textLength="13.8" lengthAdjust="spacingAndGlyphs">OUT1</text>
<text x="143.9" y="683.8" font-size="8.8" textLength="61.6" lengthAdjust="spacingAndGlyphs">Ex1.2 - Out2 (Horn)</text>
<path d="M106.7,673.5 Q107.5,681.5 114,681.5 H138.5 M134.5,678.5 L139.3,681.5 L134.5,684.5" fill="none" stroke="#000" stroke-width="1.05"/>
<text x="115.8" y="679.3" font-size="5" textLength="13.8" lengthAdjust="spacingAndGlyphs">OUT2</text>
<text x="143.9" y="696.0" font-size="8.8" textLength="75.6" lengthAdjust="spacingAndGlyphs">Ex1.3 - Out3 (X1 - Start)</text>
<path d="M106.7,685.8 Q107.5,693.8 114,693.8 H138.5 M134.5,690.8 L139.3,693.8 L134.5,696.8" fill="none" stroke="#000" stroke-width="1.05"/>
<text x="115.8" y="691.6" font-size="5" textLength="13.8" lengthAdjust="spacingAndGlyphs">OUT3</text>
<text x="143.9" y="708.2" font-size="8.8" textLength="75.6" lengthAdjust="spacingAndGlyphs">Ex1.4 - Out4 (X2 - Stop)</text>
<path d="M106.7,698.0 Q107.5,706.0 114,706.0 H138.5 M134.5,703.0 L139.3,706.0 L134.5,709.0" fill="none" stroke="#000" stroke-width="1.05"/>
<text x="115.8" y="703.8" font-size="5" textLength="13.8" lengthAdjust="spacingAndGlyphs">OUT4</text>
<text x="143.9" y="720.4" font-size="8.8" textLength="111.9" lengthAdjust="spacingAndGlyphs">Ex1.5 - Positive with transmitter ON</text>
<path d="M106.7,710.3 Q107.5,718.3 114,718.3 H138.5 M134.5,715.3 L139.3,718.3 L134.5,721.3" fill="none" stroke="#000" stroke-width="1.05"/>
<text x="115.8" y="716.1" font-size="5" textLength="13.8" lengthAdjust="spacingAndGlyphs">OUT5</text>
<text x="143.9" y="732.6" font-size="8.8" textLength="83.0" lengthAdjust="spacingAndGlyphs">Ex1.6 - Positive in Mode 2</text>
<path d="M106.7,722.5 Q107.5,730.5 114,730.5 H138.5 M134.5,727.5 L139.3,730.5 L134.5,733.5" fill="none" stroke="#000" stroke-width="1.05"/>
<text x="115.8" y="728.3" font-size="5" textLength="13.8" lengthAdjust="spacingAndGlyphs">OUT6</text>
<text x="143.9" y="744.8" font-size="8.8" textLength="51.9" lengthAdjust="spacingAndGlyphs">Ex1.7 - Negative</text>
<path d="M106.7,734.8 Q107.5,742.8 114,742.8 H138.5 M134.5,739.8 L139.3,742.8 L134.5,745.8" fill="none" stroke="#000" stroke-width="1.05"/>
<text x="143.9" y="757.0" font-size="8.8" textLength="72.1" lengthAdjust="spacingAndGlyphs">Ex1.8 - SET2 selection</text>
<path d="M106.7,747.0 Q107.5,755.0 114,755.0 H138.5 M134.5,752.0 L139.3,755.0 L134.5,758.0" fill="none" stroke="#000" stroke-width="1.05"/>
<text x="115.8" y="752.8" font-size="5" textLength="11.5" lengthAdjust="spacingAndGlyphs">IN11</text>
<text x="143.9" y="769.2" font-size="8.8" textLength="72.1" lengthAdjust="spacingAndGlyphs">Ex1.9 - SET3 selection</text>
<path d="M106.7,759.3 Q107.5,767.3 114,767.3 H138.5 M134.5,764.3 L139.3,767.3 L134.5,770.3" fill="none" stroke="#000" stroke-width="1.05"/>
<text x="115.8" y="765.1" font-size="5" textLength="11.5" lengthAdjust="spacingAndGlyphs">IN12</text>
<text x="143.9" y="781.4" font-size="8.8" textLength="58.6" lengthAdjust="spacingAndGlyphs">Ex1.10 - not used</text>
<path d="M106.7,771.5 Q107.5,779.5 114,779.5 H138.5 M134.5,776.5 L139.3,779.5 L134.5,782.5" fill="none" stroke="#000" stroke-width="1.05"/>
<text x="115.8" y="777.3" font-size="5" textLength="11.5" lengthAdjust="spacingAndGlyphs">IN13</text>
<text x="143.9" y="793.6" font-size="8.8" textLength="91.7" lengthAdjust="spacingAndGlyphs">Ex1.11 - positive in REMOTE</text>
<path d="M106.7,783.8 Q107.5,791.8 114,791.8 H138.5 M134.5,788.8 L139.3,791.8 L134.5,794.8" fill="none" stroke="#000" stroke-width="1.05"/>
<path d="M106.7,655 V785 Q107.5,791.8 114,791.8" fill="none" stroke="#000" stroke-width="0.9"/>
<path d="M238,791.2 H253 Q257.3,791.2 257.3,787 V758.5 Q257.3,754.6 253,754.6 H223.5 M227.5,751.5 L222.7,754.6 L227.5,757.7 M257.3,766.7 H223.5 M227.5,763.6 L222.7,766.7 L227.5,769.8" fill="none" stroke="#000" stroke-width="1.1"/>
<text x="72.8" y="832.6" font-size="8.4" textLength="266.0" lengthAdjust="spacingAndGlyphs">Disconnecting the wire Ex1.8 select the SET2 (single-function mode).</text>
<text x="72.8" y="841.7" font-size="8.4" textLength="261.2" lengthAdjust="spacingAndGlyphs">Disconnecting the wire Ex1.9 select the SET3 (multi-function mode).</text>
<text x="72.8" y="851.1" font-size="8.4" textLength="158.5" lengthAdjust="spacingAndGlyphs">Per codice <tspan font-weight="bold">B</tspan> collegare assieme i fili 8 9 e 11.</text>
<text x="72.8" y="871.0" font-size="8.4" textLength="167.5" lengthAdjust="spacingAndGlyphs">When the SET2 and SET3 (reduced speed)</text>
<text x="72.8" y="881.0" font-size="8.4" textLength="145.2" lengthAdjust="spacingAndGlyphs">is not used, keep connected the wires</text>
<text x="72.8" y="890.6" font-size="8.4" textLength="143.8" lengthAdjust="spacingAndGlyphs">Ex1.8 and EX1.9 to positive (Ex1.11).</text>
<text x="70.5" y="908.7" font-size="8.4" textLength="68.5" lengthAdjust="spacingAndGlyphs">DV delay 0.5 sec.</text>
<text x="375.7" y="817" font-size="10.5" style="fill:#2525e0;stroke:#2525e0" textLength="184.2" lengthAdjust="spacingAndGlyphs">SW da scaricare: vedi tabella a parte</text>
<g fill="none" stroke="#000" stroke-width="1.1"><rect x="368.5" y="824.5" width="280" height="96.3"/><line x1="368.5" y1="851.2" x2="648.5" y2="851.2"/><line x1="368.5" y1="886.3" x2="648.5" y2="886.3"/><line x1="368.5" y1="905.3" x2="648.5" y2="905.3"/><line x1="486.5" y1="824.5" x2="486.5" y2="851.2"/><line x1="480.8" y1="905.3" x2="480.8" y2="920.8"/></g>
<text x="374.8" y="841.8" font-size="13.8" style="fill:#e0202a;stroke:none" textLength="49.2" lengthAdjust="spacingAndGlyphs">FABER</text>
<text x="423.8" y="841.8" font-size="13.8" style="fill:#8c8c8c;stroke:none" textLength="33.7" lengthAdjust="spacingAndGlyphs">COM</text>
<path d="M461.8,830.8 H474.6 Q479.8,831 479.8,836.5 V845 H466 Q465.5,835 461.8,830.8 Z" fill="#e0202a"/>
<rect x="374.8" y="843.5" width="105" height="1" fill="#e0202a"/>
<text x="490.1" y="832.6" font-size="5.4" style="stroke:none" textLength="19.7" lengthAdjust="spacingAndGlyphs">CODICE</text>
<text x="519.4" y="836.7" font-size="10.3" font-weight="bold" textLength="67.1" lengthAdjust="spacingAndGlyphs">PR4MBA16P</text>
<text x="590.5" y="836.7" font-size="10.3" textLength="27.4" lengthAdjust="spacingAndGlyphs">(12V)</text>
<text x="519.4" y="847.9" font-size="10.3" font-weight="bold" textLength="67.1" lengthAdjust="spacingAndGlyphs">PR4MBA26P</text>
<text x="590.5" y="847.9" font-size="10.3" textLength="27.4" lengthAdjust="spacingAndGlyphs">(24V)</text>
<text x="373" y="861.9" font-size="6.6" font-weight="bold" textLength="17.3" lengthAdjust="spacingAndGlyphs">DESC:</text>
<text x="398.1" y="866" font-size="10.4" textLength="217.7" lengthAdjust="spacingAndGlyphs">Scanreco G4 Handy radio remote control global view</text>
<text x="398.1" y="878.8" font-size="10.4" textLength="195.1" lengthAdjust="spacingAndGlyphs">multifunction with 6 PWM proportional functions</text>
<text x="373" y="897.7" font-size="6.6" font-weight="bold" textLength="13" lengthAdjust="spacingAndGlyphs">FILE:</text>
<text x="391.6" y="900" font-size="9.6" textLength="200.9" lengthAdjust="spacingAndGlyphs">...\Radio_Scanreco\G4\Produzione\Handy\PR4MBAx6P.cdr</text>
<text x="373" y="915.8" font-size="6.6" font-weight="bold" textLength="15.2" lengthAdjust="spacingAndGlyphs">DATA</text>
<text x="394.8" y="917.7" font-size="11" textLength="54.9" lengthAdjust="spacingAndGlyphs">21/01/2021</text>
<text x="488" y="916" font-size="6" font-weight="bold" textLength="19.4" lengthAdjust="spacingAndGlyphs">FOGLIO</text>
<text x="535.4" y="917" font-size="11">1</text>
<text x="570.7" y="916" font-size="6" font-weight="bold" textLength="5" lengthAdjust="spacingAndGlyphs">DI</text>
<text x="609.3" y="917" font-size="11">1</text>
<!-- /BOTTOM -->
</svg>
</body></html>
